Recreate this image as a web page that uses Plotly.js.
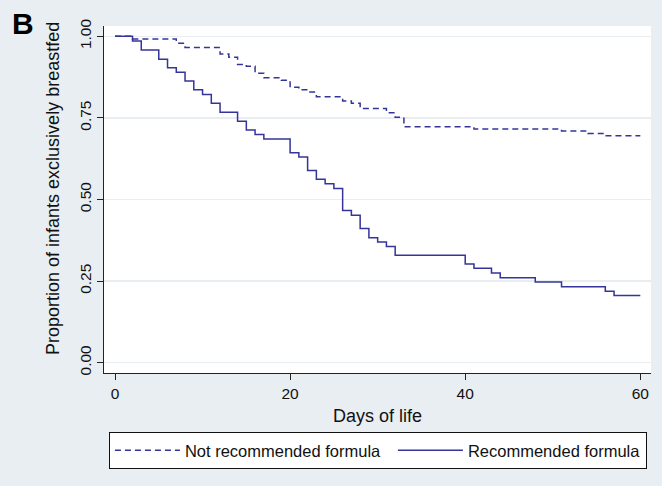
<!DOCTYPE html>
<html>
<head>
<meta charset="utf-8">
<script src="https://cdn.plot.ly/plotly-3.0.1.min.js"></script>
<style>html,body{margin:0;padding:0;background:#e9eef2;}#chart{width:662px;height:486px;}</style>
</head>
<body>
<div id="chart"></div>
<script>
// Kaplan-Meier steps
const notRecDays = [0, 2, 7, 8, 12, 13, 14, 15, 16, 17, 19, 20, 21, 22, 23, 26, 27, 28, 31, 32, 33, 41, 51, 54, 56, 60];
const notRecSurv = [1.000, 0.992, 0.979, 0.966, 0.946, 0.936, 0.914, 0.908, 0.887, 0.873, 0.865, 0.844, 0.836, 0.829, 0.815, 0.802, 0.795, 0.779, 0.766, 0.752, 0.723, 0.716, 0.710, 0.702, 0.695, 0.695];

const recDays = [0, 2, 3, 5, 6, 7, 8, 9, 10, 11, 12, 14, 15, 16, 17, 20, 21, 22, 23, 24, 25, 26, 27, 28, 29, 30, 31, 32, 40, 41, 43, 44, 48, 51, 56, 57, 60];
const recSurv = [1.000, 0.986, 0.958, 0.930, 0.904, 0.890, 0.863, 0.836, 0.822, 0.795, 0.767, 0.740, 0.713, 0.699, 0.685, 0.643, 0.630, 0.589, 0.562, 0.548, 0.534, 0.466, 0.452, 0.411, 0.383, 0.370, 0.356, 0.329, 0.302, 0.289, 0.275, 0.260, 0.247, 0.233, 0.219, 0.206, 0.206];

const xTicks = [0, 20, 40, 60];
const yTicks = [0, 0.25, 0.5, 0.75, 1];
const yTickText = ["0.00", "0.25", "0.50", "0.75", "1.00"];
const seriesNames = ["Not recommended formula", "Recommended formula"];
const xTitle = "Days of life";
const yTitle = "Proportion of infants exclusively breastfed";
const panelLabel = "B";

const lineColor = "#34349a";
const FONT = "Liberation Sans, Arial, Helvetica, sans-serif";

const traces = [
  {x: notRecDays, y: notRecSurv, name: seriesNames[0], type: "scatter", mode: "lines", legendwidth: 203,
   line: {shape: "hv", color: lineColor, width: 1.5, dash: "6px,4px"}},
  {x: recDays, y: recSurv, name: seriesNames[1], type: "scatter", mode: "lines",
   line: {shape: "hv", color: lineColor, width: 1.5}}
];

const layout = {
  width: 662, height: 486,
  margin: {l: 104, r: 11, t: 26, b: 113, autoexpand: false},
  paper_bgcolor: "#e9eef2",
  plot_bgcolor: "#ffffff",
  font: {family: FONT, color: "#111111", size: 15},
  showlegend: true,
  xaxis: {
    range: [-1.256, 61.22], tickvals: xTicks, ticks: "outside", ticklen: 6, tickwidth: 1, tickcolor: "#222",
    showline: true, linecolor: "#222", linewidth: 1, showgrid: false, zeroline: false,
    tickfont: {size: 15.5, family: FONT, color: "#111"},
    title: {text: xTitle, font: {size: 18, family: FONT, color: "#111"}, standoff: 8}
  },
  yaxis: {
    range: [-0.0316, 1.0316], tickvals: yTicks, ticktext: yTickText, tickangle: -90,
    ticks: "outside", ticklen: 6, tickwidth: 1, tickcolor: "#222",
    showline: true, linecolor: "#222", linewidth: 1,
    showgrid: true, gridcolor: "#e7edf1", gridwidth: 1.5, zeroline: false,
    tickfont: {size: 15.5, family: FONT, color: "#111"}
  },
  legend: {
    orientation: "h", x: 0.009, xanchor: "left", y: -0.17, yanchor: "top",
    bgcolor: "#ffffff", bordercolor: "#111", borderwidth: 1,
    font: {size: 16.5, family: FONT, color: "#111"},
    itemwidth: 65, traceorder: "normal"
  },
  annotations: [
    {text: yTitle, xref: "paper", yref: "paper", x: (53 - 104) / 547, y: (373 - 189) / 347,
     xanchor: "center", yanchor: "middle", textangle: -90, showarrow: false,
     font: {size: 18, family: FONT, color: "#111"}},
    {text: "<b>" + panelLabel + "</b>", xref: "paper", yref: "paper", x: (10 - 104) / 547, y: (373 - 23) / 347,
     xanchor: "left", yanchor: "middle", showarrow: false,
     font: {size: 30, family: FONT, color: "#000"}}
  ]
};

Plotly.newPlot("chart", traces, layout, {displayModeBar: false, staticPlot: true});
</script>
</body>
</html>
